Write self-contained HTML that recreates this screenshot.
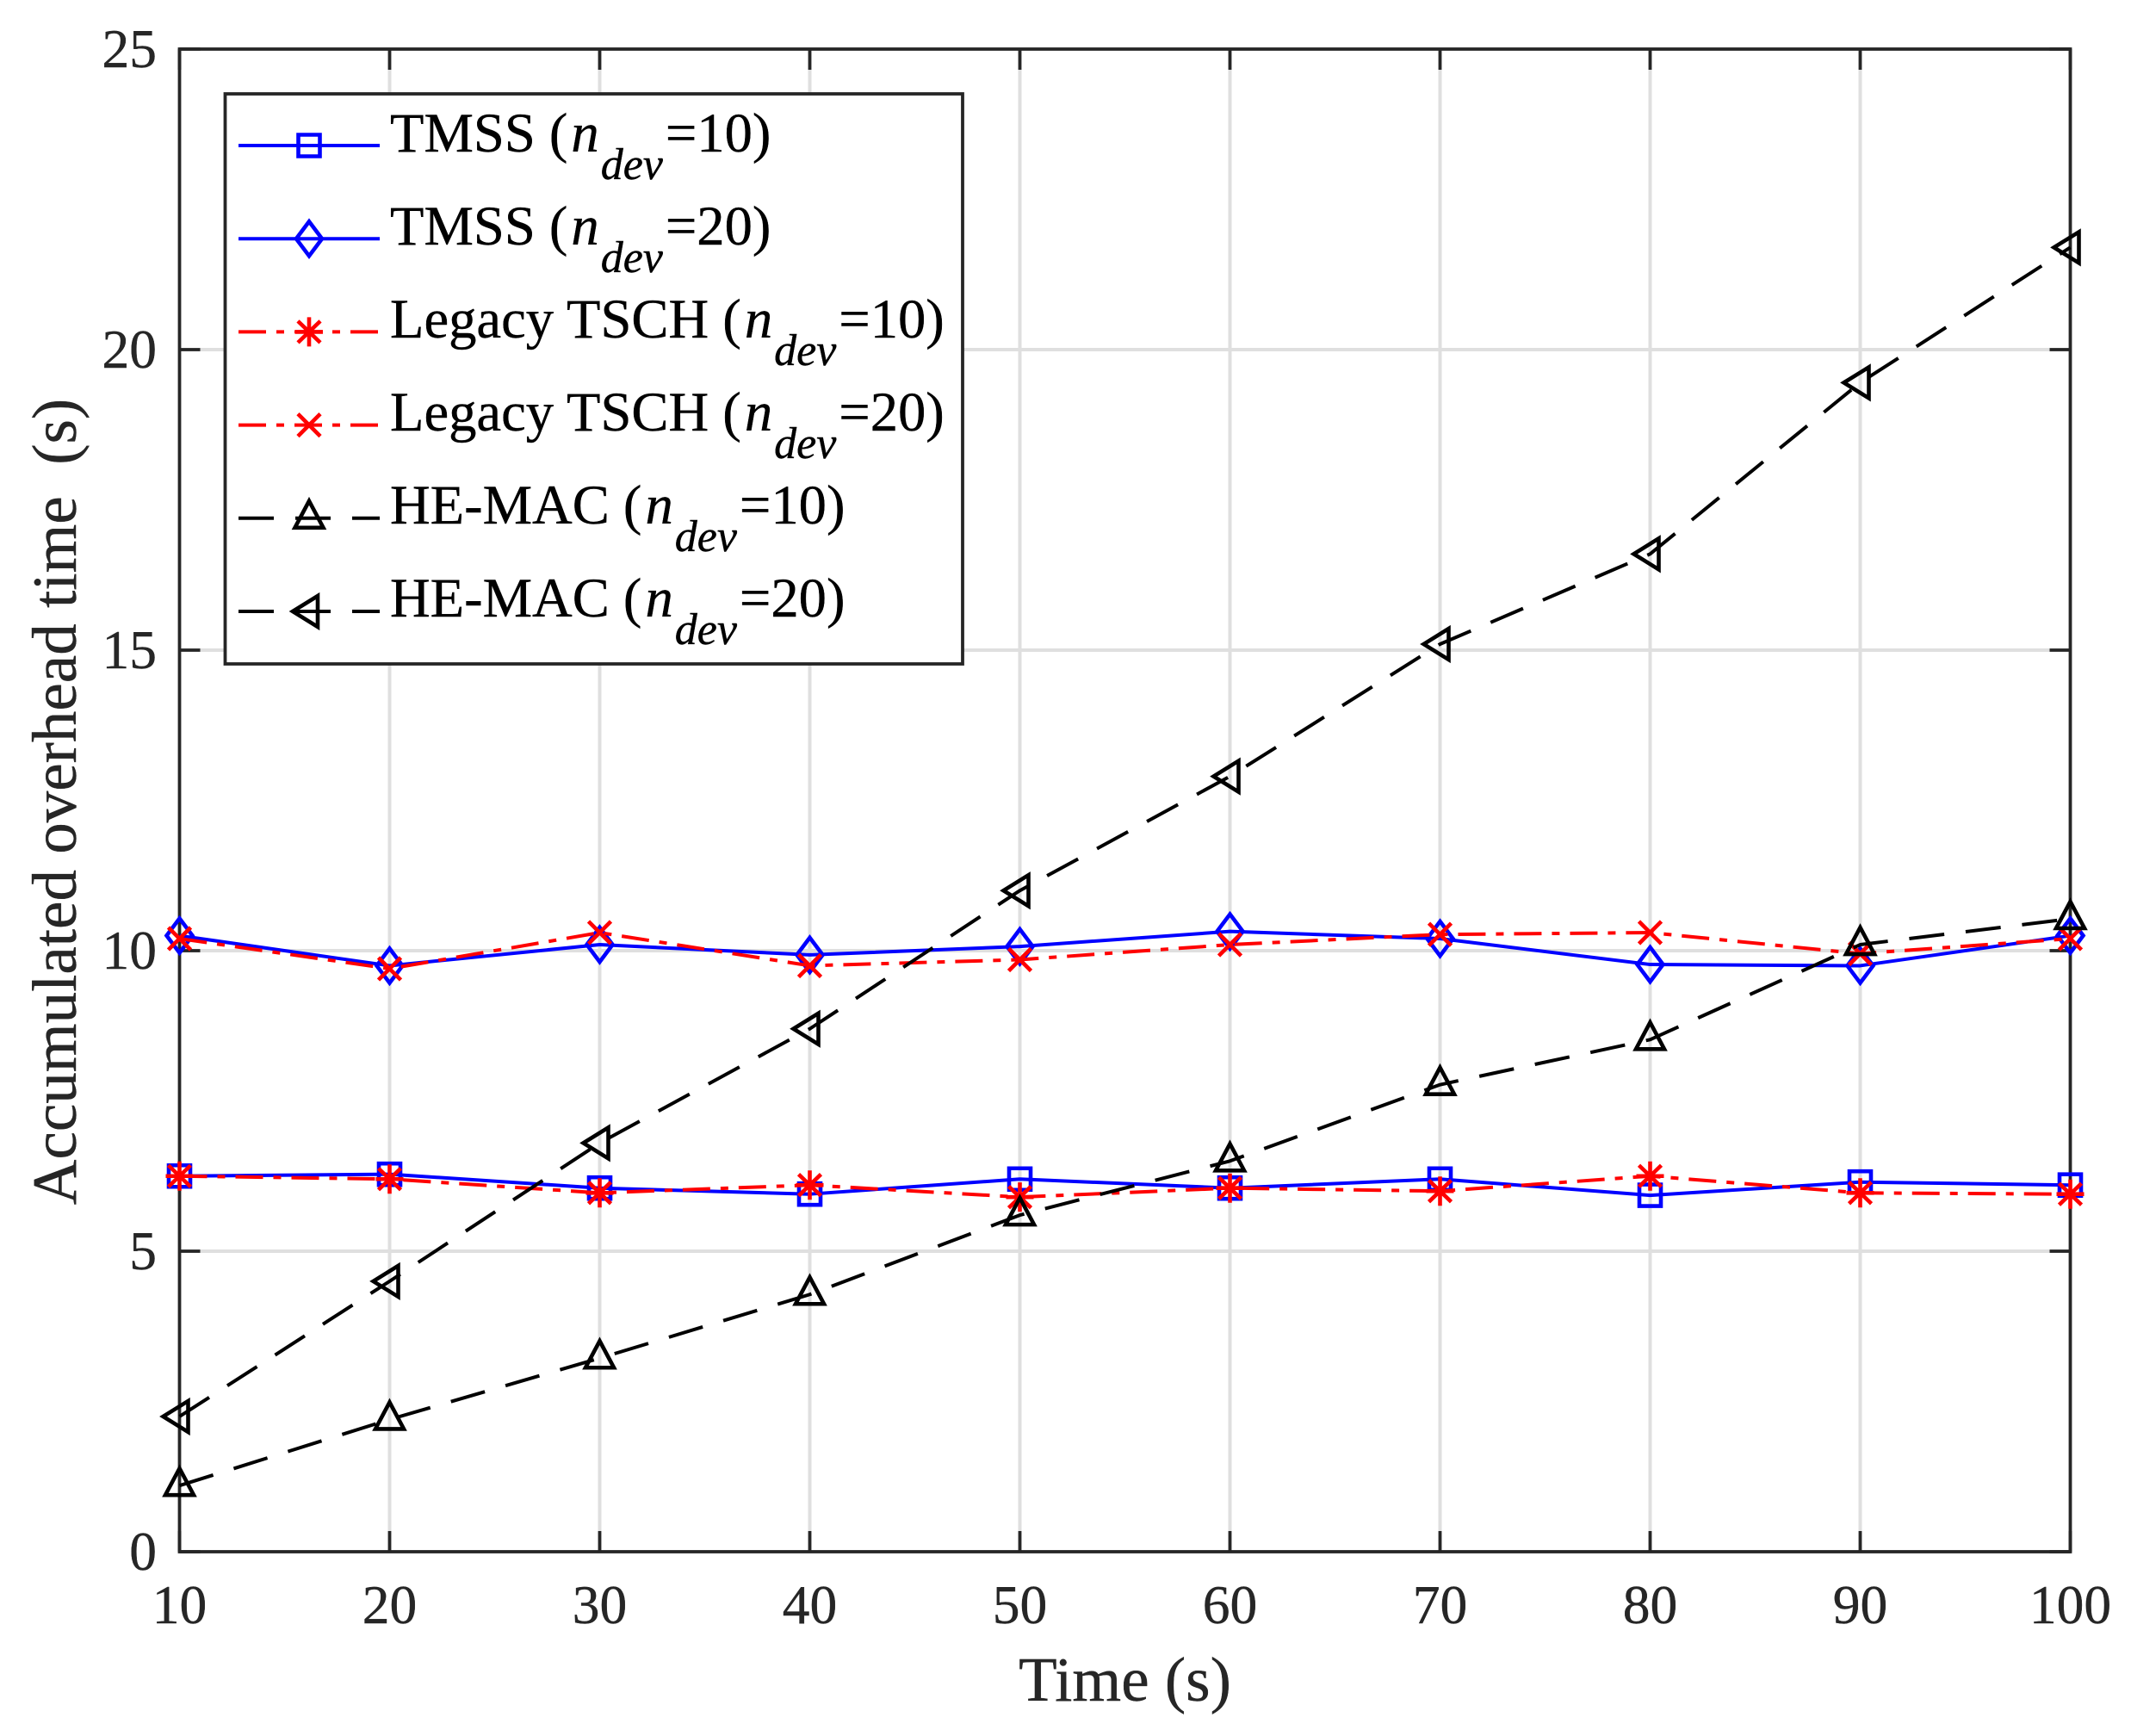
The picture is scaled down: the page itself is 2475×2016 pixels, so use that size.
<!DOCTYPE html>
<html lang="en">
<head>
<meta charset="utf-8">
<title>Accumulated overhead time chart</title>
<style>
  html, body { margin: 0; padding: 0; background: #fff; }
  svg { display: block; }
  text { font-family: "Liberation Serif", "Times New Roman", serif; fill: #262626; stroke: #262626; stroke-width: 0.4px; white-space: pre; }
  .tick-label { font-size: 63.5px; }
  .axis-title { font-size: 73px; }
  .legend-text { font-size: 64.6px; fill: #000; stroke: #000; }
  .legend-text .sub { font-size: 52px; font-style: italic; }
  .legend-text .var { font-style: italic; }
</style>
</head>
<body>
<svg id="chart" xmlns="http://www.w3.org/2000/svg" width="2475" height="2016" viewBox="0 0 2475 2016">
  <rect x="0" y="0" width="2475" height="2016" fill="#ffffff"/>
  <g id="grid"></g>
  <g id="series"></g>
  <g id="axes"></g>
  <text class="axis-title" x="1306.5" y="1975" text-anchor="middle">Time (s)</text>
  <text class="axis-title" transform="translate(88 931) rotate(-90)" text-anchor="middle">Accumulated overhead time  (s)</text>
  <g id="legend">
    <rect x="261.5" y="109" width="856.5" height="662" fill="#ffffff" stroke="#262626" stroke-width="3.8"/>
    <g id="legend-samples"></g>
    <text class="legend-text" x="453" y="176">TMSS (<tspan class="var" dx="4">n</tspan><tspan class="sub" dx="2" dy="32">dev</tspan><tspan dx="3" dy="-32">=10)</tspan></text>
    <text class="legend-text" x="453" y="284">TMSS (<tspan class="var" dx="4">n</tspan><tspan class="sub" dx="2" dy="32">dev</tspan><tspan dx="3" dy="-32">=20)</tspan></text>
    <text class="legend-text" x="453" y="392">Legacy TSCH (<tspan class="var" dx="4">n</tspan><tspan class="sub" dx="2" dy="32">dev</tspan><tspan dx="3" dy="-32">=10)</tspan></text>
    <text class="legend-text" x="453" y="500">Legacy TSCH (<tspan class="var" dx="4">n</tspan><tspan class="sub" dx="2" dy="32">dev</tspan><tspan dx="3" dy="-32">=20)</tspan></text>
    <text class="legend-text" x="453" y="608">HE-MAC (<tspan class="var" dx="4">n</tspan><tspan class="sub" dx="2" dy="32">dev</tspan><tspan dx="3" dy="-32">=10)</tspan></text>
    <text class="legend-text" x="453" y="716">HE-MAC (<tspan class="var" dx="4">n</tspan><tspan class="sub" dx="2" dy="32">dev</tspan><tspan dx="3" dy="-32">=20)</tspan></text>
  </g>
</svg>
<script>
const times = [10, 20, 30, 40, 50, 60, 70, 80, 90, 100];
const tmss10 = [6.25, 6.28, 6.05, 5.95, 6.2, 6.05, 6.2, 5.93, 6.15, 6.1];
const tmss20 = [10.25, 9.75, 10.1, 9.93, 10.07, 10.32, 10.2, 9.77, 9.75, 10.25];
const tsch10 = [6.25, 6.2, 5.97, 6.1, 5.9, 6.05, 6.0, 6.25, 5.97, 5.95];
const tsch20 = [10.2, 9.7, 10.3, 9.75, 9.85, 10.1, 10.27, 10.3, 9.95, 10.2];
const hemac10 = [1.1, 2.2, 3.22, 4.28, 5.6, 6.5, 7.77, 8.52, 10.1, 10.53];
const hemac20 = [2.25, 4.5, 6.8, 8.7, 11, 12.9, 15.1, 16.6, 19.45, 21.7];
const xTickLabels = ['10', '20', '30', '40', '50', '60', '70', '80', '90', '100'];
const yTickLabels = ['0', '5', '10', '15', '20', '25'];

const NS = 'http://www.w3.org/2000/svg';
const plot = { left: 208.5, right: 2404.5, top: 57, bottom: 1802 };
const xDomain = [10, 100];
const yDomain = [0, 25];
const xScale = function (v) { return plot.left + (v - xDomain[0]) / (xDomain[1] - xDomain[0]) * (plot.right - plot.left); };
const yScale = function (v) { return plot.bottom - (v - yDomain[0]) / (yDomain[1] - yDomain[0]) * (plot.bottom - plot.top); };

const BLUE = '#0000ff', RED = '#ff0000', BLACK = '#000000', AXIS = '#262626', GRID = '#dfdfdf';
const DASH_DOT = '32 12 9 12', DASH = '41 25';
const seriesList = [
  { name: 'tmss-10', values: tmss10, color: BLUE, dash: null, marker: 'square' },
  { name: 'tmss-20', values: tmss20, color: BLUE, dash: null, marker: 'diamond' },
  { name: 'tsch-10', values: tsch10, color: RED, dash: DASH_DOT, marker: 'star' },
  { name: 'tsch-20', values: tsch20, color: RED, dash: DASH_DOT, marker: 'cross' },
  { name: 'hemac-10', values: hemac10, color: BLACK, dash: DASH, marker: 'triangle' },
  { name: 'hemac-20', values: hemac20, color: BLACK, dash: DASH, marker: 'left-triangle' }
];

function markerPath(type, x, y) {
  const m = function (a, b) { return (x + a) + ' ' + (y + b); };
  switch (type) {
    case 'square': return 'M' + m(-12.5, -12.5) + 'L' + m(12.5, -12.5) + 'L' + m(12.5, 12.5) + 'L' + m(-12.5, 12.5) + 'Z';
    case 'diamond': return 'M' + m(0, -20) + 'L' + m(15, 0) + 'L' + m(0, 20) + 'L' + m(-15, 0) + 'Z';
    case 'star': return 'M' + m(0, -17) + 'L' + m(0, 17) + 'M' + m(-16, 0) + 'L' + m(16, 0) + 'M' + m(-13, -12.5) + 'L' + m(13, 12.5) + 'M' + m(-13, 12.5) + 'L' + m(13, -12.5);
    case 'cross': return 'M' + m(-13, -13) + 'L' + m(13, 13) + 'M' + m(-13, 13) + 'L' + m(13, -13);
    case 'triangle': return 'M' + m(0, -20) + 'L' + m(16.5, 11) + 'L' + m(-16.5, 11) + 'Z';
    default: return 'M' + m(-19, 0) + 'L' + m(10, -18) + 'L' + m(10, 18) + 'Z';
  }
}

function drawMarker(parent, type, x, y, color) {
  const p = document.createElementNS(NS, 'path');
  p.setAttribute('d', markerPath(type, x, y));
  p.setAttribute('fill', 'none');
  p.setAttribute('stroke', color);
  p.setAttribute('stroke-width', '4.6');
  p.setAttribute('stroke-linejoin', 'miter');
  p.setAttribute('stroke-miterlimit', '10');
  
  
  parent.appendChild(p);
}

function drawLine(parent, x1, y1, x2, y2, color, width) {
  const l = document.createElementNS(NS, 'line');
  l.setAttribute('x1', x1);
  l.setAttribute('y1', y1);
  l.setAttribute('x2', x2);
  l.setAttribute('y2', y2);
  l.setAttribute('stroke', color);
  l.setAttribute('stroke-width', width);
  parent.appendChild(l);
  return l;
}

function drawLabel(parent, str, x, y, anchor) {
  const t = document.createElementNS(NS, 'text');
  t.setAttribute('class', 'tick-label');
  t.setAttribute('x', x);
  t.setAttribute('y', y);
  t.setAttribute('text-anchor', anchor);
  t.textContent = str;
  parent.appendChild(t);
  return t;
}

const gridG = document.getElementById('grid');
const axesG = document.getElementById('axes');
const seriesG = document.getElementById('series');
const samplesG = document.getElementById('legend-samples');
const TICK = 24;

xTickLabels.forEach(function (label) {
  const v = Number(label);
  const px = xScale(v);
  if (v !== xDomain[0] && v !== xDomain[1]) {
    const g = drawLine(gridG, px, plot.top, px, plot.bottom, GRID, 4);
    
    
  }
  const tb = drawLine(axesG, px, plot.bottom, px, plot.bottom - TICK, AXIS, 3.8);
  
  
  const tt = drawLine(axesG, px, plot.top, px, plot.top + TICK, AXIS, 3.8);
  
  
  const lab = drawLabel(axesG, label, px, 1885, 'middle');
  
  
});

yTickLabels.forEach(function (label) {
  const v = Number(label);
  const py = yScale(v);
  if (v !== yDomain[0] && v !== yDomain[1]) {
    const g = drawLine(gridG, plot.left, py, plot.right, py, GRID, 4);
    
    
  }
  const tl = drawLine(axesG, plot.left, py, plot.left + TICK, py, AXIS, 3.8);
  
  
  const tr = drawLine(axesG, plot.right, py, plot.right - TICK, py, AXIS, 3.8);
  
  
  const lab = drawLabel(axesG, label, 182, py + 21, 'end');
  
  
});

const frame = document.createElementNS(NS, 'rect');
frame.setAttribute('x', plot.left);
frame.setAttribute('y', plot.top);
frame.setAttribute('width', plot.right - plot.left);
frame.setAttribute('height', plot.bottom - plot.top);
frame.setAttribute('fill', 'none');
frame.setAttribute('stroke', AXIS);
frame.setAttribute('stroke-width', '3.8');


axesG.appendChild(frame);

// Axes sit below the series so the markers overlap the frame.
seriesG.parentNode.insertBefore(axesG, seriesG);

seriesList.forEach(function (s, i) {
  const g = document.createElementNS(NS, 'g');
  
  
  seriesG.appendChild(g);

  const line = document.createElementNS(NS, 'polyline');
  line.setAttribute('points', s.values.map(function (v, k) { return xScale(times[k]) + ',' + yScale(v); }).join(' '));
  line.setAttribute('fill', 'none');
  line.setAttribute('stroke', s.color);
  line.setAttribute('stroke-width', '4');
  line.setAttribute('stroke-linejoin', 'round');
  if (s.dash) line.setAttribute('stroke-dasharray', s.dash);
  
  
  g.appendChild(line);

  s.values.forEach(function (v, k) {
    drawMarker(g, s.marker, xScale(times[k]), yScale(v), s.color);
  });

  const rowY = 169 + i * 108.2;
  const sample = drawLine(samplesG, 277, rowY, 441, rowY, s.color, 4);
  if (s.dash) sample.setAttribute('stroke-dasharray', s.dash);
  
  
  drawMarker(samplesG, s.marker, 359, rowY, s.color);
});
</script>
</body>
</html>
